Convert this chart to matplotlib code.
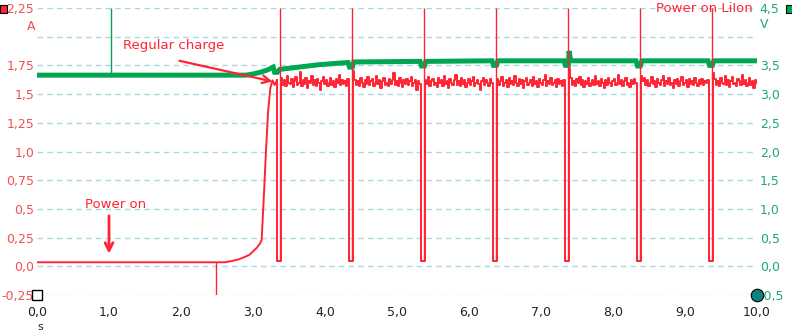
import numpy as np
import matplotlib
matplotlib.use("Agg")
import matplotlib.pyplot as plt
from matplotlib.patches import Rectangle

# ---- data ----
# current (A): idle + ramp before regular charging starts
ramp_t = [0.0, 2.6, 2.7, 2.8, 2.9, 2.95, 3.0, 3.05, 3.1, 3.12, 3.15, 3.18, 3.21,
          3.24, 3.27, 3.30, 3.333]
ramp_i = [0.035, 0.035, 0.045, 0.06, 0.085, 0.10, 0.13, 0.16, 0.20, 0.23, 0.60,
          1.00, 1.35, 1.55, 1.62, 1.58, 1.62]

# pulse (dropout) start times, each dropout lasts ~0.056 s, current ~0.045 A
pulse_start = [3.333, 4.333, 5.333, 6.333, 7.333, 8.333, 9.333]
pulse_len = 0.056
pulse_low = 0.045
spike_t = [3.375, 4.375, 5.375, 6.375, 7.375, 8.375, 9.375]
sample_dt = 0.02

# noisy charge current after each dropout
noise_segments = [
    [1.64, 1.58, 1.62, 1.57, 1.66, 1.60, 1.59, 1.63, 1.56, 1.61,
     1.65, 1.58, 1.60, 1.69, 1.57, 1.62, 1.59, 1.64, 1.55, 1.61,
     1.60, 1.66, 1.58, 1.62, 1.57, 1.63, 1.60, 1.54, 1.61, 1.65,
     1.59, 1.62, 1.57, 1.60, 1.64, 1.58, 1.61, 1.56, 1.63, 1.60,
     1.67, 1.58, 1.62, 1.59, 1.61, 1.57, 1.63],
    [1.70, 1.62, 1.58, 1.61, 1.57, 1.64, 1.60, 1.56, 1.62, 1.59,
     1.65, 1.58, 1.61, 1.63, 1.57, 1.60, 1.66, 1.59, 1.62, 1.55,
     1.61, 1.64, 1.58, 1.60, 1.57, 1.63, 1.59, 1.62, 1.68, 1.58,
     1.61, 1.57, 1.64, 1.60, 1.56, 1.62, 1.59, 1.63, 1.58, 1.61,
     1.65, 1.57, 1.60, 1.62, 1.54, 1.61, 1.59],
    [1.62, 1.59, 1.65, 1.57, 1.61, 1.63, 1.58, 1.60, 1.56, 1.64,
     1.60, 1.62, 1.57, 1.66, 1.59, 1.61, 1.55, 1.63, 1.60, 1.58,
     1.62, 1.67, 1.58, 1.61, 1.57, 1.64, 1.59, 1.62, 1.56, 1.60,
     1.63, 1.58, 1.61, 1.65, 1.57, 1.60, 1.62, 1.59, 1.54, 1.61,
     1.64, 1.58, 1.62, 1.60, 1.57, 1.63, 1.60],
    [1.63, 1.58, 1.61, 1.65, 1.57, 1.60, 1.62, 1.56, 1.64, 1.59,
     1.61, 1.58, 1.66, 1.60, 1.57, 1.63, 1.59, 1.62, 1.55, 1.61,
     1.64, 1.58, 1.60, 1.62, 1.57, 1.65, 1.59, 1.61, 1.56, 1.63,
     1.60, 1.58, 1.62, 1.67, 1.57, 1.61, 1.59, 1.64, 1.58, 1.60,
     1.62, 1.56, 1.63, 1.59, 1.61, 1.57, 1.62],
    [1.72, 1.64, 1.58, 1.61, 1.57, 1.63, 1.60, 1.65, 1.58, 1.62,
     1.56, 1.61, 1.59, 1.64, 1.57, 1.60, 1.62, 1.58, 1.66, 1.59,
     1.61, 1.57, 1.63, 1.60, 1.55, 1.62, 1.58, 1.64, 1.60, 1.57,
     1.61, 1.63, 1.58, 1.60, 1.67, 1.59, 1.62, 1.57, 1.61, 1.64,
     1.58, 1.60, 1.56, 1.62, 1.59, 1.63, 1.60],
    [1.66, 1.61, 1.64, 1.58, 1.62, 1.57, 1.60, 1.65, 1.59, 1.61,
     1.56, 1.63, 1.60, 1.58, 1.62, 1.66, 1.57, 1.61, 1.59, 1.64,
     1.58, 1.60, 1.55, 1.62, 1.59, 1.63, 1.57, 1.61, 1.65, 1.58,
     1.60, 1.62, 1.56, 1.63, 1.59, 1.61, 1.58, 1.64, 1.60, 1.57,
     1.62, 1.59, 1.63, 1.58, 1.61, 1.60, 1.62],
    [1.68, 1.63, 1.58, 1.61, 1.57, 1.64, 1.60, 1.59, 1.66, 1.58,
     1.62, 1.56, 1.61, 1.65, 1.59, 1.60, 1.57, 1.63, 1.61, 1.58,
     1.67, 1.59, 1.62, 1.57, 1.60, 1.64, 1.58, 1.61, 1.55, 1.62,
     1.60],
]

# voltage (V)
volt_t = [0.0, 2.9, 3.0, 3.1, 3.2, 3.28, 3.3, 3.34, 3.37, 3.5, 3.7, 3.9, 4.1,
          4.32, 4.34, 4.38, 4.4, 5.32, 5.34, 5.38, 5.4, 6.32, 6.34, 6.38, 6.4,
          7.32, 7.34, 7.38, 7.39, 7.41, 7.42, 8.32, 8.34, 8.38, 8.4, 9.32, 9.34,
          9.38, 9.4, 10.0]
volt_v = [3.33, 3.33, 3.35, 3.38, 3.42, 3.47, 3.38, 3.38, 3.43, 3.45, 3.48,
          3.51, 3.53, 3.55, 3.47, 3.47, 3.56, 3.57, 3.49, 3.49, 3.57, 3.58,
          3.50, 3.50, 3.58, 3.58, 3.50, 3.50, 3.75, 3.60, 3.58, 3.58, 3.49,
          3.49, 3.58, 3.58, 3.50, 3.50, 3.58, 3.58]
volt_spike_t = 1.03

x_ticks = [0, 1, 2, 3, 4, 5, 6, 7, 8, 9, 10]
x_labels = ["0,0", "1,0", "2,0", "3,0", "4,0", "5,0", "6,0", "7,0", "8,0", "9,0", "10,0"]
a_ticks = [-0.25, 0, 0.25, 0.5, 0.75, 1.0, 1.25, 1.5, 1.75, 2.0, 2.25]
a_labels = ["-0,25", "0,0", "0,25", "0,5", "0,75", "1,0", "1,25", "1,5", "1,75", "", "2,25"]
v_ticks = [-0.5, 0, 0.5, 1.0, 1.5, 2.0, 2.5, 3.0, 3.5, 4.0, 4.5]
v_labels = ["-0,5", "0,0", "0,5", "1,0", "1,5", "2,0", "2,5", "3,0", "3,5", "", "4,5"]

RED = "#ff2433"
GREEN = "#00a651"
GRID = "#a9d8e2"

# dropouts + noisy segments after the ramp (starts where the ramp ends)
cur_t, cur_i = [ramp_t[-1]], [ramp_i[-1]]
for k, p in enumerate(pulse_start):
    seg = noise_segments[k]
    end = pulse_start[k + 1] if k + 1 < len(pulse_start) else 10.0 + sample_dt
    cur_t += [p, p + pulse_len]
    cur_i += [pulse_low, pulse_low]
    ts = p + pulse_len + sample_dt * np.arange(len(seg))
    ts = ts[ts < end]
    cur_t += list(ts)
    cur_i += seg[:len(ts)]

fig = plt.figure(figsize=(7.92, 3.36), dpi=100)
ax = fig.add_axes([37 / 792, 41 / 336, 720 / 792, 287 / 336])
ax2 = ax.twinx()
ax2.set_zorder(ax.get_zorder() - 1)
ax.patch.set_visible(False)

# voltage behind
ax2.plot(volt_t, volt_v, color=GREEN, lw=3.6, solid_joinstyle="miter")
ax2.vlines(volt_spike_t, 3.33, 4.5, color=GREEN, lw=1.0)

# current on top
ax.plot(ramp_t, ramp_i, color=RED, lw=1.4)
ax.step(cur_t, cur_i, where="post", color=RED, lw=1.4)
ax.vlines(spike_t, pulse_low, 2.25, color=RED, lw=1.0)
ax.vlines(2.49, -0.25, 0.035, color=RED, lw=1.0)

ax.set_xlim(0, 10)
ax.set_ylim(-0.25, 2.25)
ax2.set_ylim(-0.5, 4.5)

ax.set_xticks(x_ticks, x_labels)
ax.set_yticks(a_ticks, a_labels)
ax2.set_yticks(v_ticks, v_labels)
for a in (ax, ax2):
    for s in a.spines.values():
        s.set_visible(False)
ax.tick_params(axis="x", length=0, pad=8, labelsize=9, labelcolor="#222222")
ax.tick_params(axis="y", length=0, pad=2, labelsize=9, labelcolor="#f25050")
ax2.tick_params(axis="y", length=0, pad=2, labelsize=9, labelcolor="#1fa870")

ax2.grid(True, color=GRID, ls=(0, (4, 3)), lw=1.0)
ax2.xaxis.grid(True)

# unit labels
fig.text(35 / 792, 1 - 27 / 336, "A", color="#f25050", fontsize=9, ha="right", va="center")
fig.text(760 / 792, 1 - 25 / 336, "V", color="#1fa870", fontsize=9, ha="left", va="center")
fig.text(40 / 792, 1 - 327 / 336, "s", color="#222222", fontsize=8, ha="center", va="center")

# corner markers
fig.add_artist(Rectangle((0, 1 - 13 / 336), 7 / 792, 8 / 336, transform=fig.transFigure,
                         facecolor=RED, edgecolor="black", lw=0.8))
fig.add_artist(Rectangle((786 / 792, 1 - 13 / 336), 8 / 792, 8 / 336, transform=fig.transFigure,
                         facecolor=GREEN, edgecolor="black", lw=0.8))
ax.plot(0, -0.25, marker="s", ms=7, mfc="white", mec="black", mew=1.0, clip_on=False, zorder=5)
ax.plot(10, -0.25, marker="o", ms=9, mfc="#0f7f7f", mec="black", mew=0.8, clip_on=False, zorder=5)

# annotations
ax.text(1.19, 1.92, "Regular charge", color=RED, fontsize=9.5, ha="left", va="center")
ax.annotate("", xy=(3.27, 1.61), xytext=(1.98, 1.79),
            arrowprops=dict(arrowstyle="->", color=RED, lw=1.6, shrinkA=0, shrinkB=0,
                            mutation_scale=14))
ax.annotate("", xy=(1.0, 0.11), xytext=(1.0, 0.44),
            arrowprops=dict(arrowstyle="->", color=RED, lw=2.0, shrinkA=0, shrinkB=0,
                            mutation_scale=14))
ax.text(0.67, 0.54, "Power on", color=RED, fontsize=9.5, ha="left", va="center")
fig.text(753 / 792, 1 - 9 / 336, "Power on LiIon", color=RED, fontsize=9.5, ha="right", va="center")

fig.savefig("out.png", dpi=100)
